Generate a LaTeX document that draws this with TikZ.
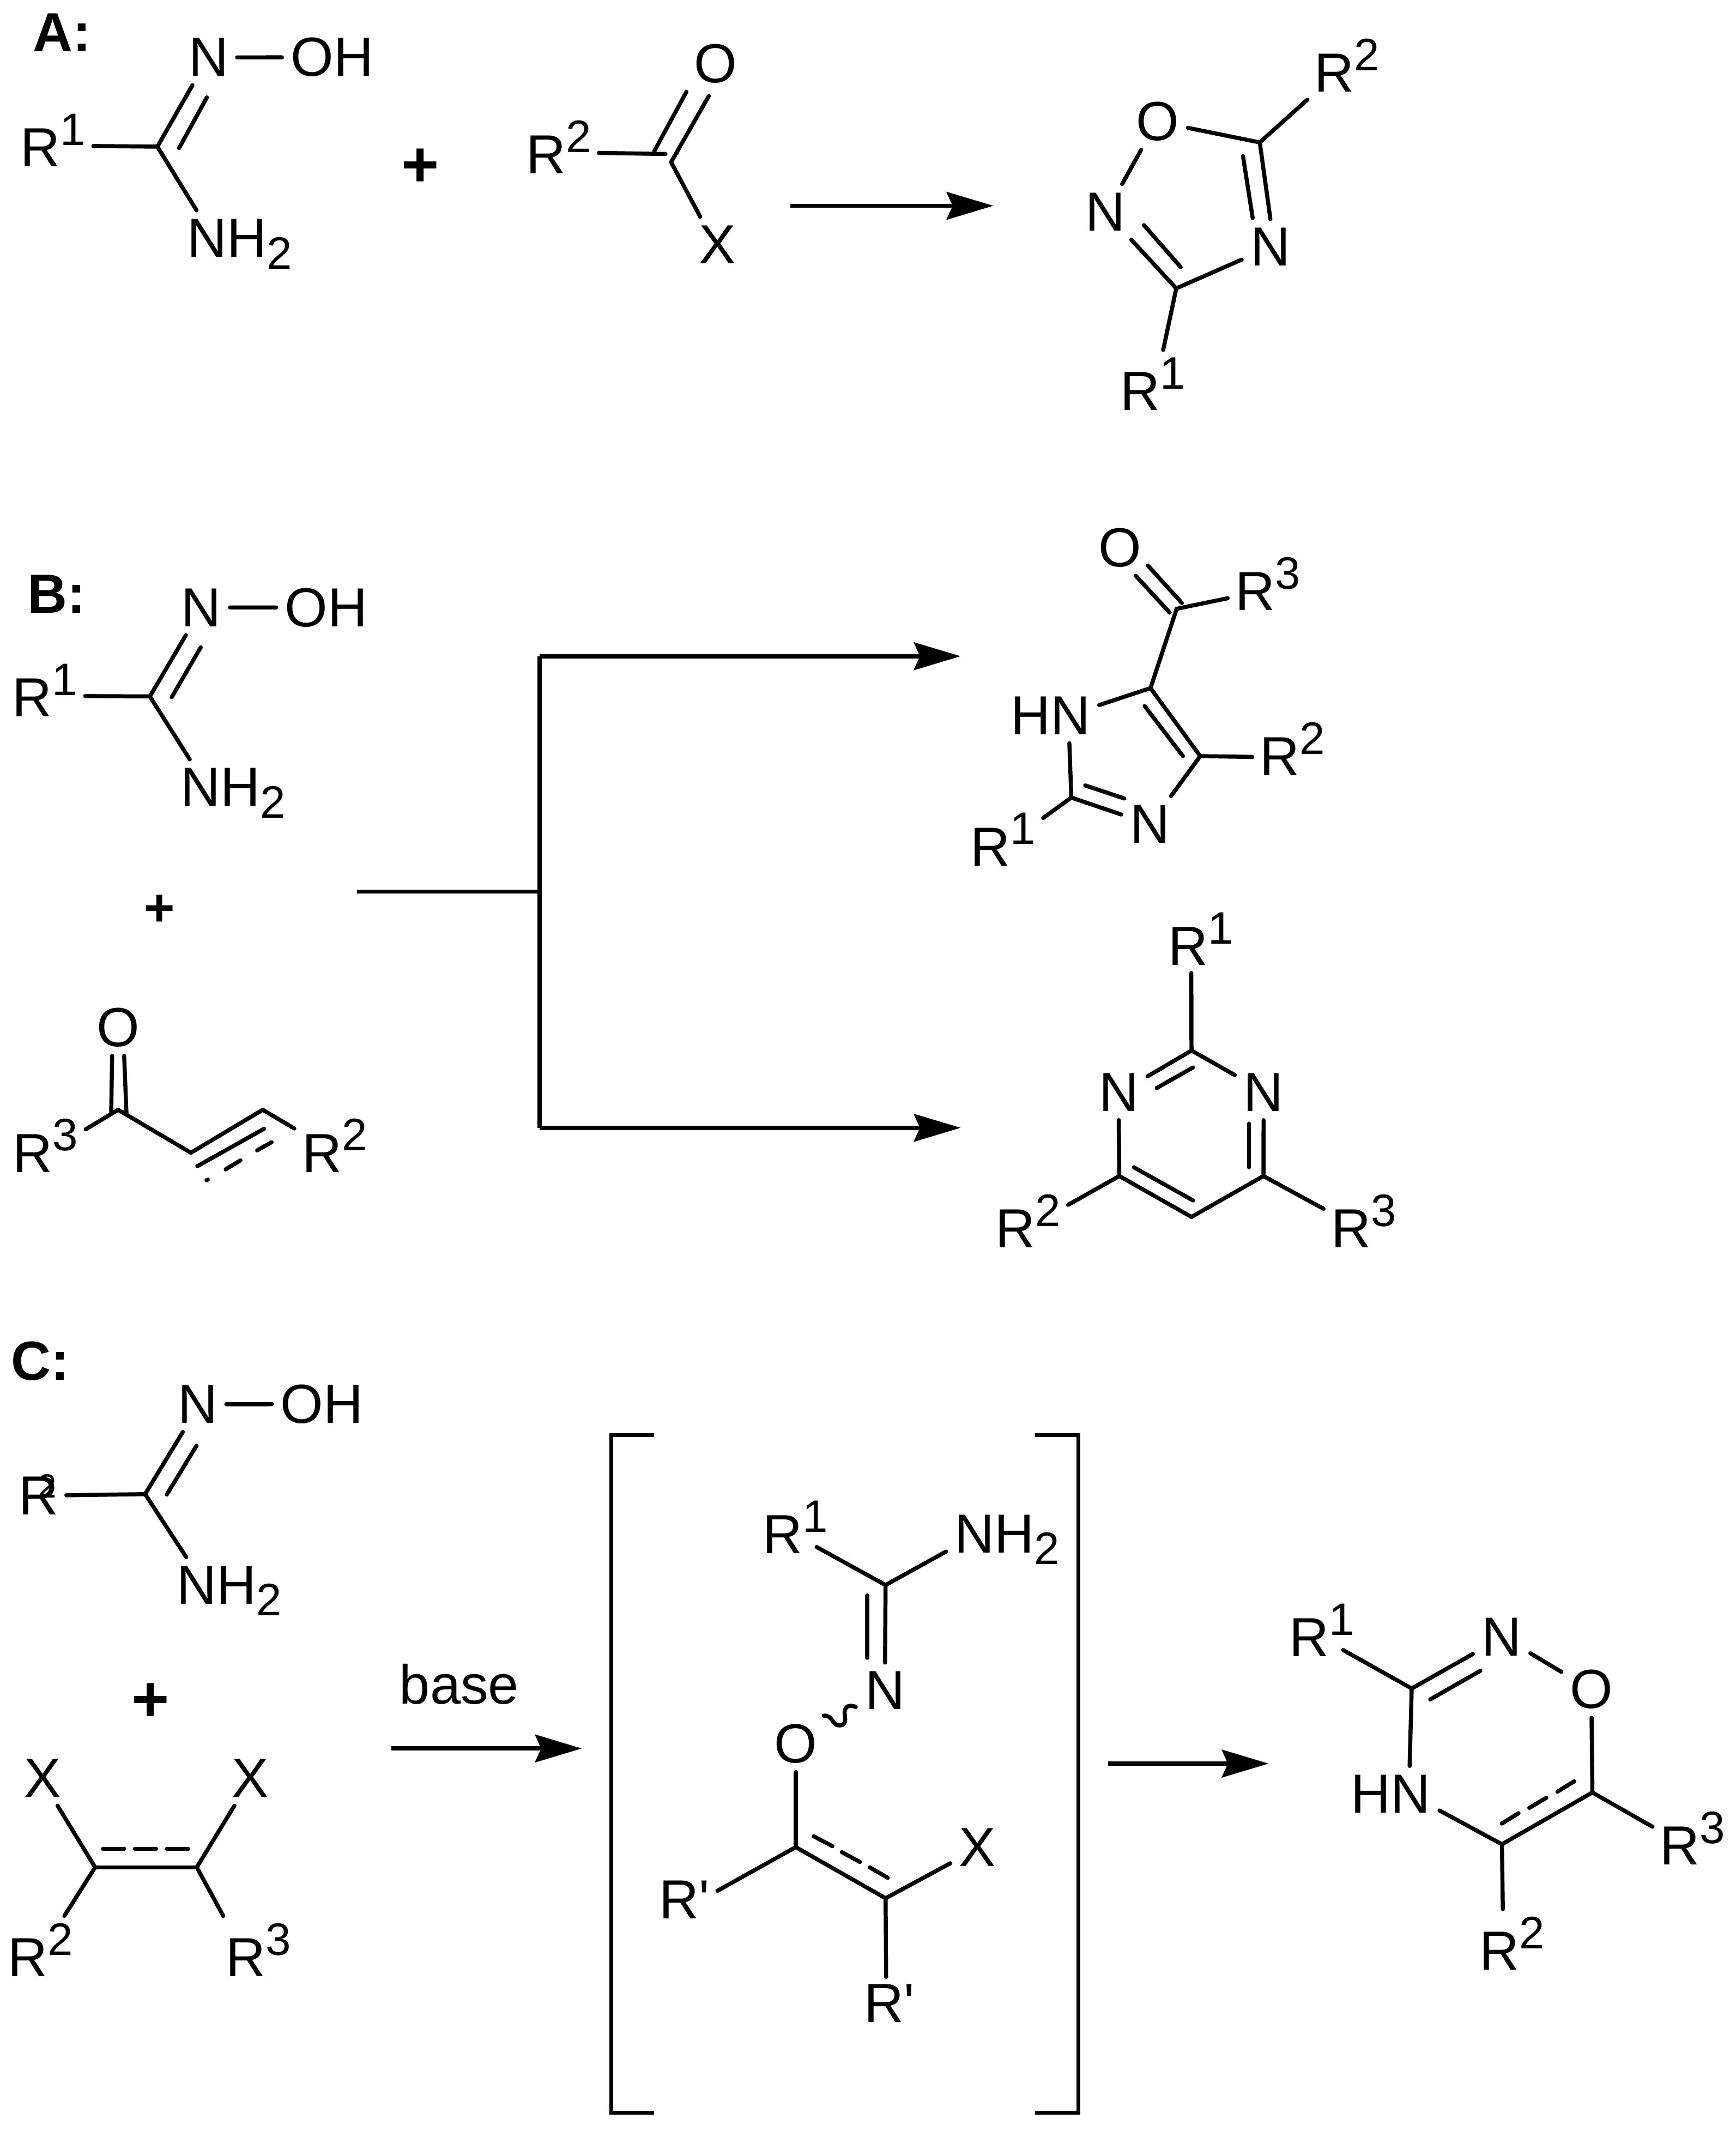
\documentclass[tikz,border=0pt]{standalone}
\usepackage{fontspec}
\setmainfont{Liberation Sans}
\usetikzlibrary{arrows.meta}
\newcommand{\rn}[1]{R\raisebox{8.9pt}{\fontsize{19}{19}\selectfont #1}}
\newcommand{\nhtwo}{NH\raisebox{-5pt}{\fontsize{19}{19}\selectfont 2}}
\newcommand{\rp}{R\textquotesingle}
\tikzset{
  atom/.style={anchor=base,inner sep=3.5pt,font=\fontsize{23}{23}\selectfont},
  rgrp/.style={atom,inner sep=3pt},
  tag/.style={anchor=base west,inner sep=0pt,font=\fontsize{23}{23}\selectfont\bfseries},
  plus/.style={inner sep=0pt,font=\bfseries},
  bond/.style={line width=1.7pt,line cap=round},
  rxn/.style={line width=1.8pt,-{Stealth[length=19.5pt,width=11.5pt,inset=2.5pt]}},
  stem/.style={line width=1.8pt},
  brk/.style={line width=1.6pt}
}
\begin{document}
\begin{tikzpicture}[x=0.02cm,y=-0.02cm]
\useasboundingbox (0,0) rectangle (1274,1568);
\node[tag] (la) at (24,38) {A:};
\node[tag] (lb) at (20,449.6) {B:};
\node[tag] (lc) at (8,1012.7) {C:};
\foreach \nm/\x/\y/\t in {an1/153/56/N,aoh/243.7/56/OH,anh/176/188.7/{\nhtwo},ao/525.3/60.5/O,ax/526.6/193.3/X,
    po/849.5/103/O,pn2/811.2/169.4/N,pn4/932.3/195/N,
    bn/147.7/459.6/N,boh/239.5/459.6/OH,bnh/171/591.5/{\nhtwo},bo/86.7/767.9/O,
    qo/822/415.6/O,qhn/771/538.8/HN,qn/844/618.4/N,sn1/821/815.4/N,sn2/927.3/815.4/N,
    cn/145/1044.2/N,coh/236.3/1044.2/OH,cnh/168.4/1176.8/{\nhtwo},cx1/31.4/1318.4/X,cx2/183.8/1318.4/X,
    in/649.5/1254.2/N,io/584/1293.3/O,inh/739.2/1139.2/{\nhtwo},ix/717.4/1369.5/X,
    un/1102/1214.8/N,uo/1168/1253.4/O,uhn/1020.7/1330/HN}
  \node[atom] (\nm) at (\x,\y) {\t};
\foreach \nm/\x/\y/\t in {ar1/39/122.3/1,ar2/410/127.5/2,pr2/988.3/67.5/2,pr1/846/301/1,
    br1/33/525.9/1,br3/33.4/860/3,br2/245.5/860/2,
    qr3/930.4/447.7/3,qr1/736/635.2/1,qr2/948.5/569.1/2,
    sr1/881.4/708.3/1,sr2/754.4/915.4/2,sr3/1000.8/915.4/3,
    cr2/29.7/1450.3/2,cr3/189.8/1450.3/3,ir1/583.6/1139.8/1,
    ur1/970/1215.5/1,ur3/1242.2/1368.3/3,ur2/1109.6/1445.3/2}
  \node[rgrp] (\nm) at (\x,\y) {\rn{\t}};
\node[rgrp] (cr) at (28.5,1111.3) {R\smash{\llap{\raisebox{6.9pt}{\fontsize{14}{14}\selectfont 2\kern1pt}}}};
\node[rgrp] (ip1) at (502.4,1407.7) {\rp};
\node[rgrp] (ip2) at (652.7,1483.9) {\rp};
\node[atom] (cb) at (337,1250) {base};
\node[plus,font=\fontsize{27}{27}\selectfont\bfseries] (pa) at (308.4,123) {+};
\node[plus,font=\fontsize{22}{22}\selectfont\bfseries] (pb) at (117,668) {+};
\node[plus,font=\fontsize{27}{27}\selectfont\bfseries] (pc) at (110.3,1249) {+};
\foreach \nm/\x/\y in {av1/115.5/107.6,av2/488.4/113,av2a/480.2/110.8,av2b/492.5/119,pv1/924.5/104.5,pv2/863.2/211.6,
    bv1/110/511,bv2/86.7/814.3,bv2a/81.6/817,bv2b/92.8/817,bv3/140.1/845.8,bv4/192.8/814.3,
    qv1/863.5/446.7,qv1a/858.4/449.5,qv2/844.3/504.9,qv3/880.8/554.8,qv4/786.2/585.2,
    sv1/874.4/770.8,sv2/821.4/862.9,sv3/927.2/862.9,sv4/874.4/892.9,
    cv1/106.5/1096.3,cv2/69.8/1370.1,cv3/144.4/1370.1,
    iv1/649.9/1163,iv2/584/1355.3,iv3/649.9/1392.8,
    uv1/1036/1238.9,uv2/1168.6/1315.2,uv3/1102.2/1353.2,
    aa1/580/151,aa2/729/151,ba1/262/654.2,ba2/396/654.2,ba3/396/481.5,ba4/396/827.5,ba5/705/481.5,ba6/705/827.5,
    ca1/287/1282.9,ca2/427/1282.9,ca3/813/1294,ca4/931/1294,iw1/604.5/1258.9,iw2/628/1252.5}
  \coordinate (\nm) at (\x,\y);
\foreach \a/\b in {av1/ar1.352,av1/an1.240,an1/aoh,av1/anh.142,av2/ar2.352,av2a/ao.224,av2b/ax.122,
    pv1/po.348,pv1/pr2.221,pv1/pn4.90,pv2/pn4.204,pv2/pn2.313,pn2.59/po.240,pv2/pr1.73,
    bv1/br1.352,bv1/bn.241,bn/boh,bv1/bnh.142,bv2a/bo.258,bv2b/bo.282,bv2/br3.22,bv2/bv3,bv3/bv4,bv4/br2.157,
    qv1a/qo.299,qv1/qr3.200,qv1/qv2,qv2/qhn.12,qv4/qhn.304,qv4/qr1.28,qv4/qn.162,qv3/qn.53,qv3/qv2,qv3/qr2.191,
    sv1/sr1.254,sv1/sn1.29,sv1/sn2.149,sv2/sn1.270,sv3/sn2.270,sv2/sv4,sv3/sv4,sv2/sr2.22,sv3/sr3.163,
    cv1/cr,cv1/cn.242,cn/coh,cv1/cnh.142,cv2/cv3,cv2/cx1.298,cv3/cx2.240,cv2/cr2.55,cv3/cr3.136,
    iv1/inh.191,iv1/in.90,iv2/io.270,iv2/ip1.15,iv2/iv3,iv3/ix.210,iv3/ip2.97,
    uv1/un.211,un.330/uo.150,uv2/uo.270,uv2/ur3.164,uv2/uv3,uv3/ur2.105,uv3/uhn.341,uv1/uhn.56}
  \draw[bond] (\a) -- (\b);
\draw[bond,shorten >=-9pt] (iv1) -- (ir1.323);
\draw[bond,shorten >=-9pt] (uv1) -- (ur1.323);
\foreach \xa/\ya/\xb/\yb in {131.4/108.7/151.8/71.5,492.5/119/520.2/70.4,912.2/114.6/919.3/160,866.5/196/839.5/165.2,
    126/511.6/147.3/475,144.8/855.7/193.8/828.2,165.6/858/176.5/851.4,188.7/844.1/199.3/838.1,151.5/866/152.5/865.5,
    867.3/442.4/842.3/414.9,868.1/554.8/840/518,796.4/576.3/825.2/585.9,875.4/783.3/848.9/798.3,
    916.5/824.4/916.5/856.5,832.1/856.5/875.5/880.8,122.4/1096.6/144.2/1060.8,
    75.5/1356.5/91.2/1356.5,98.9/1356.5/114.6/1356.5,122.4/1356.5/138.3/1356.5,
    636.4/1170.6/636.4/1216.4,597.1/1347.3/610.9/1354.6,617.8/1359/631.1/1366.2,638.4/1370.2/651.5/1377.8,
    1049.6/1246.9/1086.4/1225.9,1102.2/1338/1114.4/1330.4,1122.3/1326.5/1134.8/1319.1,1142.9/1314.6/1155.3/1307}
  \draw[bond] (\xa,\ya) -- (\xb,\yb);
\draw[bond] (iw1) .. controls (611,1258) and (611,1266.5) .. (616,1266) .. controls (623,1266) and (619,1258) .. (620,1255) .. controls (621,1251) and (625,1251) .. (iw2);
\draw[rxn] (aa1) -- (aa2);
\draw[stem] (ba1) -- (ba2);
\draw[stem] (ba3) -- (ba4);
\draw[rxn] (ba3) -- (ba5);
\draw[rxn] (ba4) -- (ba6);
\draw[rxn] (ca1) -- (ca2);
\draw[rxn] (ca3) -- (ca4);
\draw[brk] (480,1053) -- (448.6,1053) -- (448.6,1550.2) -- (480,1550.2);
\draw[brk] (759.6,1053) -- (791.5,1053) -- (791.5,1550.2) -- (759.6,1550.2);
\end{tikzpicture}
\end{document}
